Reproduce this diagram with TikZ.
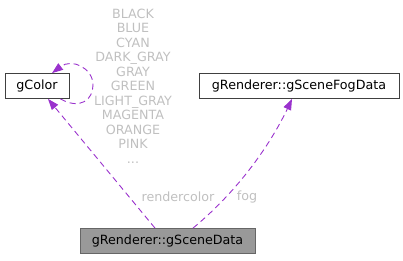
\documentclass[tikz,border=0pt]{standalone}
\usepackage{fontspec}
\setmainfont{DejaVu Sans}
\usetikzlibrary{arrows.meta}
\definecolor{edgepurple}{HTML}{9A32CD}
\definecolor{labelgray}{HTML}{C0C0C0}
\begin{document}
\begin{tikzpicture}[x=1pt, y=-1pt]
            \tikzstyle{cls} = [draw=black!75, fill=white, line width=0.8pt, minimum height=25pt, inner xsep=6pt, font=\fontsize{12.7}{14.5}\selectfont]
            \tikzstyle{current} = [cls, draw=black!60, fill=black!40]
            \tikzstyle{dep} = [color=edgepurple, line width=0.9pt, dash pattern=on 6pt off 4pt, -{Triangle[length=11pt, width=8pt]}]
            \tikzstyle{lbl} = [text=labelgray, font=\fontsize{12.7}{14.5}\selectfont, align=center, inner sep=0pt]
            \useasboundingbox (0, 0) rectangle (403, 260);
            \node[cls, minimum width=64pt] (gcolor) at (37, 86) {gColor};
            \node[cls, minimum width=200pt] (gfog) at (299, 86) {gRenderer::gSceneFogData};
            \node[current, minimum width=175pt] (gscene) at (167.5, 241) {gRenderer::gSceneData};
            \node[lbl] (values) at (133, 86) {BLACK\\BLUE\\CYAN\\DARK\_GRAY\\GRAY\\GREEN\\LIGHT\_GRAY\\MAGENTA\\ORANGE\\PINK\\...};
            \node[lbl] (rendercolor) at (178, 197) {rendercolor};
            \node[lbl] (fog) at (247, 197) {fog};
            % self reference of gColor
            \draw[dep] ([xshift=-9pt]gcolor.south east) .. controls (80, 110) and (93, 100) .. (93, 85)
                .. controls (93, 68) and (72, 58) .. ([xshift=15pt]gcolor.north);
            \draw[dep] ([xshift=-12.5pt]gscene.north) -- ([xshift=11pt]gcolor.south);
            \draw[dep] ([xshift=25.5pt]gscene.north) .. controls (245, 185) and (275, 135) .. ([xshift=-7pt]gfog.south);
        \end{tikzpicture}
\end{document}
